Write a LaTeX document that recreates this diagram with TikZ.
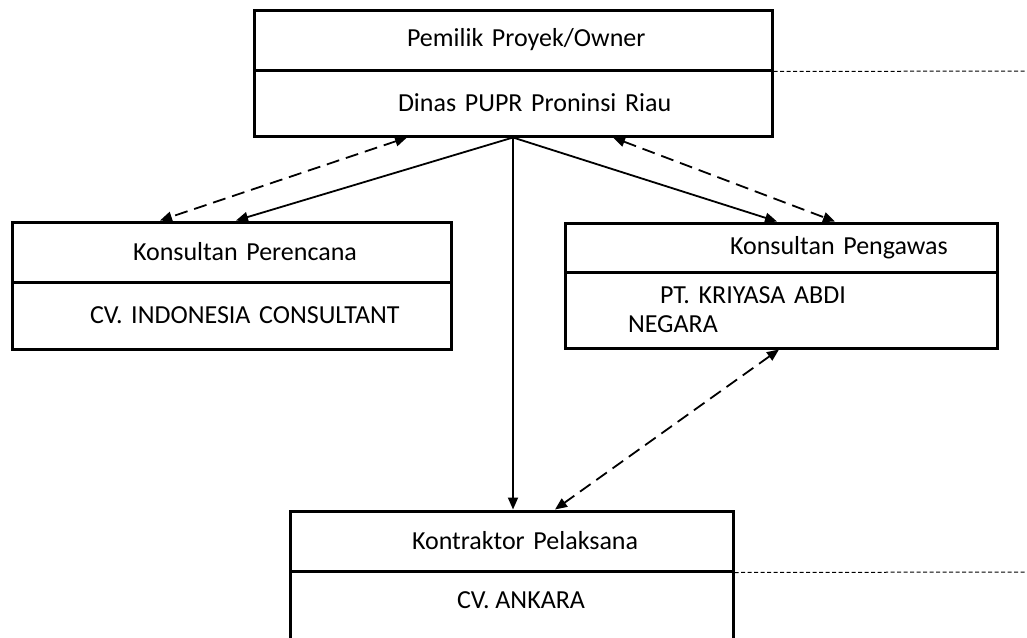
\documentclass[tikz,border=0pt]{standalone}
\usepackage{fontspec}
\setmainfont{Carlito}
\usetikzlibrary{positioning}
\usetikzlibrary{arrows.meta}
\newcommand{\indentby}[1]{\hspace*{#1pt}}
\tikzset{>={Triangle[length=12pt,width=10pt]}}

\begin{document}
\begin{tikzpicture}[x=1pt, y=-1pt,
    row/.style={draw, line width=3pt, inner sep=0pt, align=left,
      font=\fontsize{26}{29}\selectfont},
    link/.style={line width=1.8pt},
    duty/.style={link, dash pattern=on 13pt off 7pt},
    edge/.style={line width=1pt, dash pattern=on 4pt off 2.5pt}]

\useasboundingbox (0,0) rectangle (1027,637);
\clip (0,0) rectangle (1027,637);

% Owner
\node[row, minimum width=518pt, minimum height=60pt, text width=518pt]
  (own) at (513,40) {\indentby{153}Pemilik Proyek/Owner};
\node[row, minimum width=518pt, minimum height=66pt, text width=518pt]
  (din) at (513,103) {\indentby{144}Dinas PUPR Proninsi Riau};

% Planning consultant
\node[row, minimum width=439pt, minimum height=60pt, text width=439pt]
  (per) at (231.5,252) {\indentby{121}Konsultan Perencana};
\node[row, minimum width=439pt, minimum height=67pt, text width=439pt]
  (ind) at (231.5,315.5) {\indentby{78}CV. INDONESIA CONSULTANT};

% Supervising consultant
\node[row, minimum width=432pt, minimum height=49pt, text width=432pt]
  (pen) at (781,247.5) {\indentby{165}Konsultan Pengawas};
\node[row, minimum width=432pt, minimum height=76pt, text width=432pt]
  (kri) at (781,310) {\indentby{95}PT. KRIYASA ABDI\\\indentby{63}NEGARA};

% Contractor
\node[row, minimum width=443pt, minimum height=60pt, text width=443pt]
  (kon) at (511.5,541) {\indentby{122}Kontraktor Pelaksana};
\node[row, minimum width=443pt, minimum height=130pt] (ank) at (511.5,636) {};
\node[font=\fontsize{26}{29}\selectfont, inner sep=0pt]
  (ankt) at ([xshift=9.5pt, yshift=-31pt]ank.north) {CV. ANKARA};

% Dashed edges on the right
\coordinate (edgeA) at (1027,71);
\coordinate (edgeB) at (1027,572);
\draw[edge] (own.south east) -- (edgeA);
\draw[edge] (kon.south east) -- (edgeB);

% Command lines
\draw[link, ->] (din.south) -- ([xshift=4.5pt]per.north);
\draw[link, ->] (din.south) -- ([xshift=-4pt]pen.north);
\draw[link, ->] (din.south) -- (din.south |- kon.north);

% Coordination lines
\draw[duty, <->] ([xshift=-106pt]din.south) -- ([xshift=-71.5pt]per.north);
\draw[duty, <->] ([xshift=100pt]din.south) -- ([xshift=54pt]pen.north);
\draw[duty, <->] ([xshift=-2pt]kri.south) -- ([xshift=43.5pt]kon.north);
\end{tikzpicture}
\end{document}
